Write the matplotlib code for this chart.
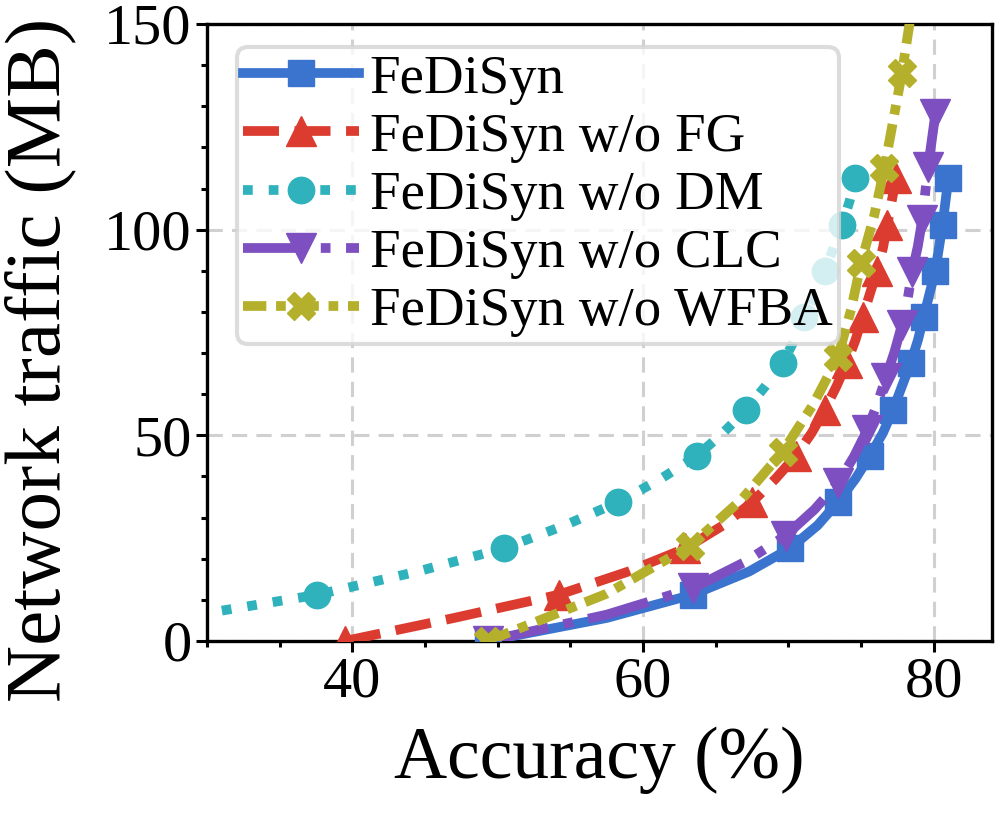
import matplotlib.pyplot as plt
from matplotlib.ticker import MultipleLocator

plt.rcParams['font.family'] = 'Liberation Serif'

# Accuracy (%) vs network traffic (MB); markers every second point
fedisyn_x = [49.3, 57.5, 63.4, 67.3, 70.1, 72.0, 73.4, 74.6, 75.6, 76.5, 77.2,
             77.8, 78.4, 78.9, 79.3, 79.7, 80.1, 80.35, 80.6, 80.8, 81.0]
fedisyn_y = [0, 5.6, 11.25, 16.9, 22.5, 28.1, 33.75, 39.4, 45, 50.6, 56.25,
             61.9, 67.5, 73.1, 78.75, 84.4, 90, 95.6, 101.25, 106.9, 112.5]

fg_x = [39.5, 47.0, 54.2, 59.0, 62.9, 65.5, 67.5, 69.1, 70.5, 71.6, 72.5,
        73.3, 74.0, 74.6, 75.1, 75.6, 76.1, 76.5, 76.8, 77.1, 77.4]
fg_y = fedisyn_y

dm_x = [17.0, 28.0, 37.6, 44.5, 50.4, 54.6, 58.3, 61.2, 63.7, 65.5, 67.1,
        68.4, 69.6, 70.4, 71.1, 71.8, 72.5, 73.1, 73.7, 74.2, 74.6]
dm_y = fedisyn_y

clc_x = [49.3, 57.5, 63.4, 67.0, 69.8, 71.8, 73.4, 74.5, 75.4, 76.1, 76.7,
         77.3, 77.8, 78.2, 78.5, 78.9, 79.2, 79.4, 79.6, 79.85, 80.1]
clc_y = [0, 6.4, 12.8, 19.2, 25.6, 32, 38.4, 44.8, 51.2, 57.6, 64,
         70.4, 76.8, 83.2, 89.6, 96, 102.4, 108.8, 115.2, 121.6, 128]

wfba_x = [49.3, 57.5, 63.2, 66.8, 69.6, 71.7, 73.4, 74.3, 75.0, 75.9, 76.6,
          77.2, 77.8, 78.3, 78.8]
wfba_y = [0, 11.5, 23, 34.5, 46, 57.5, 69, 80.5, 92, 103.5, 115,
          126.5, 138, 149.5, 161]

fig = plt.figure(figsize=(9.98, 8.13), dpi=100)
ax = fig.add_axes([0.2074, 0.2116, 0.7866, 0.7589])

lw = 7
ax.plot(fedisyn_x, fedisyn_y, '-', color='#3a74cf', lw=lw, marker='s', ms=19,
        markevery=2, label='FeDiSyn', zorder=3)
ax.plot(fg_x, fg_y, '--', color='#db3c2f', lw=lw, marker='^', ms=21,
        markevery=2, label='FeDiSyn w/o FG', zorder=3)
ax.plot(dm_x, dm_y, ':', color='#2fb2bc', lw=lw, marker='o', ms=19,
        markevery=2, label='FeDiSyn w/o DM', zorder=3)
ax.plot(clc_x, clc_y, '-.', color='#7d4fc1', lw=lw, marker='v', ms=21,
        markevery=2, label='FeDiSyn w/o CLC', zorder=3)
ax.plot(wfba_x, wfba_y, color='#b5b02b', lw=lw, dashes=(2.4, 1.0, 1.0, 1.0),
        marker='X', ms=20, markevery=2, label='FeDiSyn w/o WFBA', zorder=3)

ax.set_xlim(30, 84)
ax.set_ylim(0, 150)
ax.xaxis.set_major_locator(MultipleLocator(20))
ax.xaxis.set_minor_locator(MultipleLocator(5))
ax.yaxis.set_major_locator(MultipleLocator(50))
ax.yaxis.set_minor_locator(MultipleLocator(10))
ax.tick_params(which='major', labelsize=42, length=8, width=2.2, pad=3)
ax.tick_params(which='minor', length=4.5, width=2.2)
for s in ax.spines.values():
    s.set_linewidth(2.4)

ax.grid(True, which='major', ls=(0, (5, 3)), color='#d0d0d0', lw=2.2, zorder=0)

ax.set_xlabel('Accuracy (%)', fontsize=53, labelpad=13)
ax.set_ylabel('Network traffic (MB)', fontsize=57)
ax.yaxis.set_label_coords(-0.166, 0.455)

leg = ax.legend(loc='upper left', bbox_to_anchor=(0.038, 0.962),
                borderaxespad=0, fontsize=39.5, handlelength=2.1,
                handletextpad=0.2, labelspacing=0.14, borderpad=0.12,
                framealpha=0.8, edgecolor='#d4d4d4')
leg.get_frame().set_linewidth(3)

fig.savefig('out.png', dpi=100)
